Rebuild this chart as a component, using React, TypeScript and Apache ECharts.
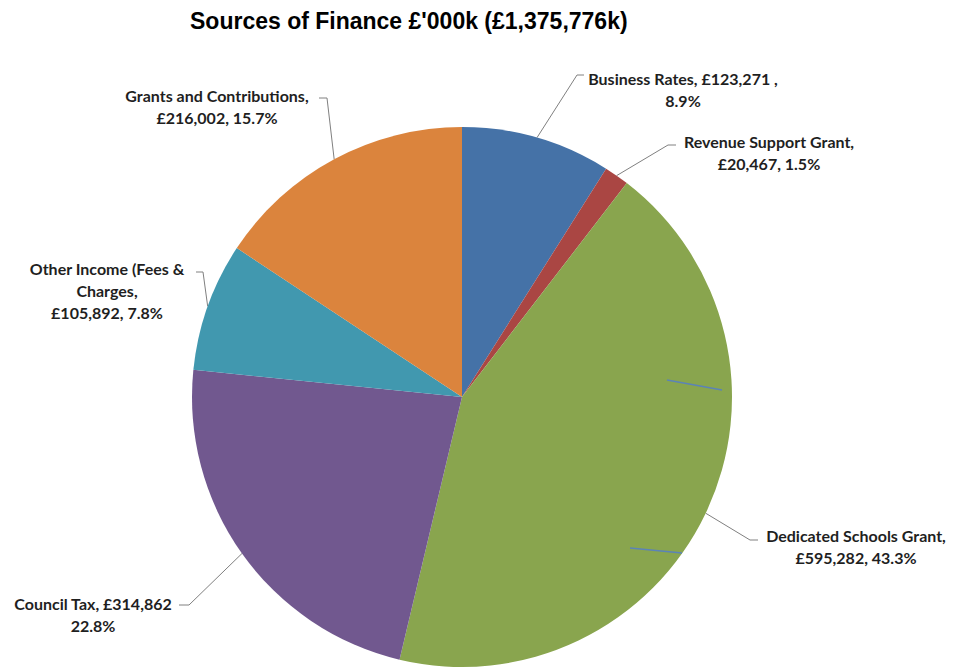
import React, { useEffect, useRef } from "react";
import * as echarts from "echarts";

const titleText = "Sources of Finance £'000k (£1,375,776k)";
const names = [
  "Business Rates",
  "Revenue Support Grant",
  "Dedicated Schools Grant",
  "Council Tax",
  "Other Income (Fees & Charges",
  "Grants and Contributions",
];
const values = [123271, 20467, 595282, 314862, 105892, 216002];
const percents = ["8.9%", "1.5%", "43.3%", "22.8%", "7.8%", "15.7%"];
const labels = [
  "Business Rates, £123,271 ,\n8.9%",
  "Revenue Support Grant,\n£20,467, 1.5%",
  "Dedicated Schools Grant,\n£595,282, 43.3%",
  "Council Tax, £314,862\n22.8%",
  "Other Income (Fees &\nCharges,\n£105,892, 7.8%",
  "Grants and Contributions,\n£216,002, 15.7%",
];
const colors = ["#4572A7", "#AA4643", "#89A54E", "#71588F", "#4198AF", "#DB843D"];

// label placement (styling, not data)
const labelPlace = [
  { x: 683, y: 89, p1: [577, 75], p2: [584, 75] },
  { x: 769, y: 152, p1: [668, 145], p2: [676, 145] },
  { x: 856, y: 546, p1: [750, 540], p2: [758, 540] },
  { x: 93, y: 614, p1: [189, 605], p2: [179, 605] },
  { x: 107, y: 290, p1: [203, 272], p2: [196, 272] },
  { x: 217, y: 106, p1: [327, 98], p2: [319, 98] },
];

const CX = 462;
const CY = 397;
const R = 270;

export default function App() {
  const ref = useRef<HTMLDivElement>(null);
  useEffect(() => {
    if (!ref.current) return;
    const chart = echarts.init(ref.current, undefined, { renderer: "svg" });
    const total = values.reduce((a, b) => a + b, 0);
    const anchors: number[][] = [];
    let acc = 0;
    values.forEach((v) => {
      const mid = 90 - ((acc + v / 2) / total) * 360;
      acc += v;
      const rad = (mid * Math.PI) / 180;
      anchors.push([CX + R * Math.cos(rad), CY - R * Math.sin(rad)]);
    });
    chart.setOption({
      animation: false,
      backgroundColor: "#ffffff",
      title: {
        text: titleText,
        left: 185,
        top: 4,
        textStyle: {
          fontFamily: "Liberation Sans, Arial, sans-serif",
          fontWeight: "bold",
          fontSize: 23,
          color: "#000000",
        },
      },
      graphic: [
        {
          type: "line",
          shape: { x1: 667, y1: 380, x2: 722, y2: 390 },
          style: { stroke: "#5b83b8", lineWidth: 1.5 },
          z: 100,
        },
        {
          type: "line",
          shape: { x1: 630, y1: 548, x2: 682, y2: 553 },
          style: { stroke: "#5b83b8", lineWidth: 1.5 },
          z: 100,
        },
      ],
      series: [
        {
          type: "pie",
          center: [CX, CY],
          radius: R,
          startAngle: 90,
          clockwise: true,
          avoidLabelOverlap: false,
          itemStyle: { borderWidth: 0 },
          label: {
            show: true,
            position: "outside",
            formatter: (p: any) => labels[p.dataIndex],
            fontFamily: "Lato, 'Open Sans', sans-serif",
            fontWeight: "bold",
            fontSize: 16,
            lineHeight: 22,
            color: "#1f1f1f",
            align: "center",
          },
          labelLine: {
            show: true,
            length: 20,
            length2: 10,
            lineStyle: { color: "#808080", width: 1 },
          },
          labelLayout: (params: any) => {
            const i = params.dataIndex;
            const L = labelPlace[i];
            return {
              x: L.x,
              y: L.y,
              align: "center",
              verticalAlign: "middle",
              labelLinePoints: [anchors[i], L.p1, L.p2],
            };
          },
          emphasis: { disabled: true },
          data: names.map((n, i) => ({
            name: n,
            value: values[i],
            pct: percents[i],
            itemStyle: { color: colors[i] },
          })),
        },
      ],
    });
    return () => chart.dispose();
  }, []);
  return (
    <div
      ref={ref}
      style={{ position: "fixed", left: 0, top: 0, width: 954, height: 668 }}
    />
  );
}
